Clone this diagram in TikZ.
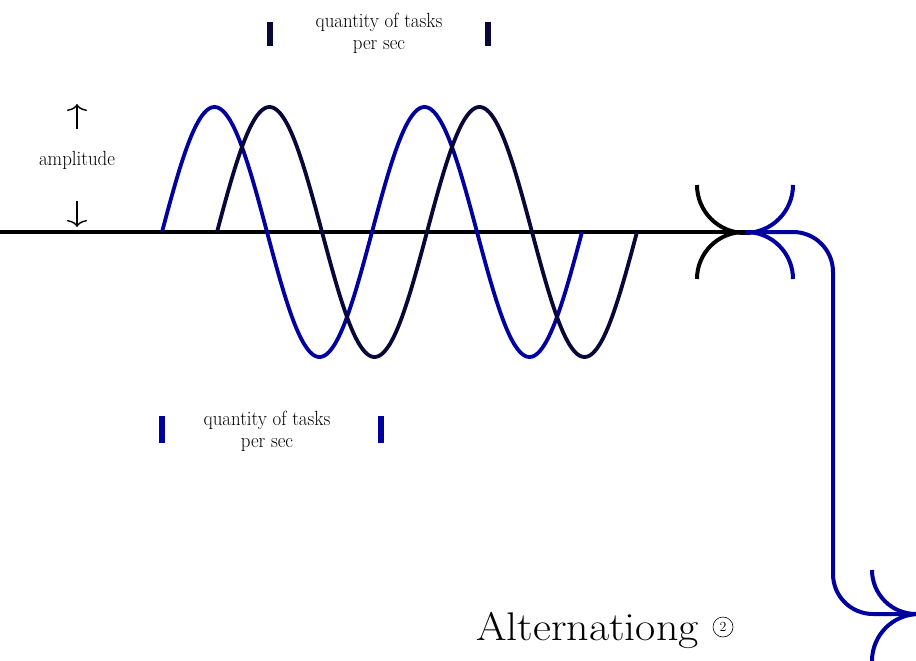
\documentclass[tikz,border=0pt]{standalone}
\usepackage{fontspec}
\usepackage{graphicx}
\usetikzlibrary{arrows.meta}
\definecolor{wblue}{RGB}{0,0,160}
\definecolor{wnavy}{RGB}{8,8,56}
\newcommand{\sq}[1]{\scalebox{0.92}[1]{#1}}
\tikzset{
  lbl/.style={align=center, inner sep=0pt, font=\fontsize{20.5}{22}\selectfont},
  tickmark/.style={line width=5.5pt},
  wave/.style={line width=3.8pt},
  mainline/.style={line width=4pt},
  archead/.style={line width=4pt},
  ampar/.style={line width=1.4pt, -{To[length=7pt,width=20pt]}}
}
\begin{document}
\begin{tikzpicture}[x=1pt,y=-1pt]
\useasboundingbox (0,0) rectangle (916,661);
% baseline
\coordinate (L0) at (0,232);
\coordinate (tip) at (745,232);
\draw[mainline, black] (L0) -- (tip);
% black arc tip
\draw[archead, black] (697,185) arc[start angle=180, end angle=90, radius=48];
\draw[archead, black] (697,279) arc[start angle=180, end angle=270, radius=47];
% blue arc tip
\draw[archead, wblue] (793,185) arc[start angle=0, end angle=90, radius=48];
\draw[archead, wblue] (793,279) arc[start angle=0, end angle=-90, radius=47];
% blue route
\coordinate (b1) at (833,232);
\coordinate (b2) at (833,614);
\coordinate (bend) at (916,614);
\draw[mainline, wblue, rounded corners=40pt] (tip) -- (b1) -- (b2) -- (bend);
\draw[archead, wblue] (872,570) arc[start angle=180, end angle=90, radius=44];
\draw[archead, wblue] (872,661) arc[start angle=180, end angle=270, radius=47];
% waves
\draw[wave, wblue] plot[domain=0:420, samples=200, smooth] ({162+\x},{232-125*sin(1.7142857*\x)});
\draw[wave, wnavy] plot[domain=0:420, samples=200, smooth] ({217+\x},{232-125*sin(1.7142857*\x)});
% amplitude
\node[lbl] (amp) at (77,160) {\sq{amplitude}};
\coordinate (au1) at (77,129);
\coordinate (au2) at (77,104);
\coordinate (ad1) at (77,201);
\coordinate (ad2) at (77,227);
\draw[ampar] (au1) -- (au2);
\draw[ampar] (ad1) -- (ad2);
% top label
\node[lbl] (qtop) at (379,33) {\sq{quantity of tasks}\\\sq{per sec}};
\coordinate (t1a) at (270,22); \coordinate (t1b) at (270,46);
\coordinate (t2a) at (488,22); \coordinate (t2b) at (488,46);
\draw[tickmark, wnavy] (t1a) -- (t1b);
\draw[tickmark, wnavy] (t2a) -- (t2b);
% bottom label
\node[lbl] (qbot) at (267,431) {\sq{quantity of tasks}\\\sq{per sec}};
\coordinate (b3a) at (162,416); \coordinate (b3b) at (162,443);
\coordinate (b4a) at (381,416); \coordinate (b4b) at (381,443);
\draw[tickmark, wblue] (b3a) -- (b3b);
\draw[tickmark, wblue] (b4a) -- (b4b);
% title
\node[anchor=base west, inner sep=0pt, font=\fontsize{40}{44}\selectfont] (title) at (476,640) {\scalebox{1.1}[1]{Alternationg}};
\node[circle, draw, line width=0.6pt, minimum size=20pt, inner sep=0pt, font=\fontsize{14}{14}\selectfont] (circ) at (723,627) {2};
\end{tikzpicture}
\end{document}
